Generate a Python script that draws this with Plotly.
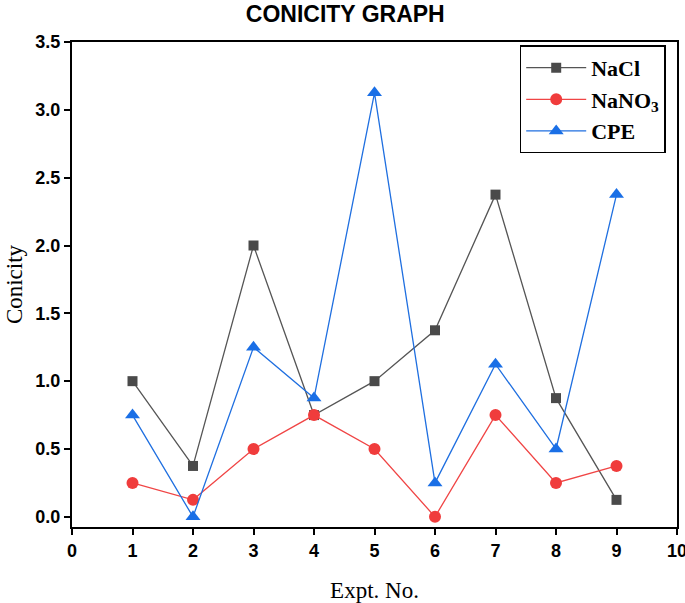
import plotly.graph_objects as go

expt = [1, 2, 3, 4, 5, 6, 7, 8, 9]
nacl = [1.0, 0.375, 2.0, 0.75, 1.0, 1.375, 2.375, 0.875, 0.125]
nano3 = [0.25, 0.125, 0.5, 0.75, 0.5, 0.0, 0.75, 0.25, 0.375]
cpe = [0.75, 0.0, 1.25, 0.875, 3.125, 0.25, 1.125, 0.5, 2.375]

x_ticks = list(range(0, 11))
y_ticks = [0.0, 0.5, 1.0, 1.5, 2.0, 2.5, 3.0, 3.5]

fig = go.Figure()
fig.add_trace(go.Scatter(x=expt, y=nacl, name="<b>NaCl</b>", mode="lines+markers",
                         line=dict(color="#555555", width=1.3),
                         marker=dict(symbol="square", size=10, color="#4a4a4a")))
fig.add_trace(go.Scatter(x=expt, y=nano3, name="<b>NaNO<sub>3</sub></b>", mode="lines+markers",
                         line=dict(color="#f04545", width=1.3),
                         marker=dict(symbol="circle", size=12, color="#f03c3c")))
fig.add_trace(go.Scatter(x=expt, y=cpe, name="<b>CPE</b>", mode="lines+markers",
                         line=dict(color="#1f6fe0", width=1.3),
                         marker=dict(symbol="triangle-up", size=13, color="#1a6fe6")))

fig.update_layout(
    width=685, height=603,
    margin=dict(l=72, r=8, t=42, b=76, autoexpand=False),
    paper_bgcolor="white", plot_bgcolor="white",
    title=dict(text="<b>CONICITY GRAPH</b>", x=0.504, xanchor="center", y=0.99, yanchor="top",
               font=dict(family="Liberation Sans, Arial", size=23, color="black")),
    showlegend=True,
    legend=dict(x=0.74, y=0.993, xanchor="left", yanchor="top",
                bordercolor="black", borderwidth=1.5, bgcolor="white",
                font=dict(family="Liberation Serif, Times New Roman", size=22, color="black"),
                itemwidth=60, tracegroupgap=0),
    xaxis=dict(range=[0, 10], tickvals=x_ticks, ticktext=[f"<b>{v}</b>" for v in x_ticks],
               automargin=False, ticklabeloverflow="allow",
               showgrid=False, zeroline=False, showline=True, linecolor="black", linewidth=2,
               mirror=True, ticks="outside", ticklen=6, tickwidth=1.5, tickcolor="black",
               tickfont=dict(family="Liberation Sans, Arial", size=18, color="black"),
               title=dict(text="Expt. No.", standoff=22,
                          font=dict(family="Liberation Serif, Times New Roman", size=23, color="black"))),
    yaxis=dict(range=[-0.075, 3.5], tickvals=y_ticks, ticktext=[f"<b>{v:.1f}</b>" for v in y_ticks],
               automargin=False, ticklabeloverflow="allow",
               showgrid=False, zeroline=False, showline=True, linecolor="black", linewidth=2,
               mirror=True, ticks="outside", ticklen=6, tickwidth=1.5, tickcolor="black",
               tickfont=dict(family="Liberation Sans, Arial", size=18, color="black"),
               title=dict(text="Conicity", standoff=6,
                          font=dict(family="Liberation Serif, Times New Roman", size=23, color="black"))),
)

fig.write_html("out.html", config={"displayModeBar": False},
               post_script="document.body.style.margin='0';")
